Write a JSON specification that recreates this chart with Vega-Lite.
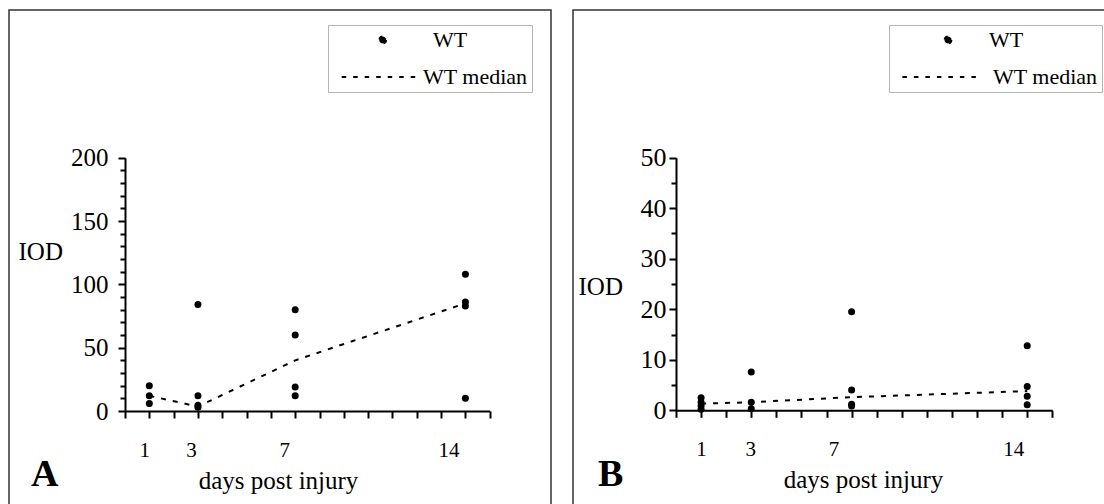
{
  "$schema": "https://vega.github.io/schema/vega-lite/v6.json",
  "background": "white",
  "padding": {"left": 8, "top": 9, "right": 0, "bottom": 0},
  "bounds": "flush",
  "spacing": 22,
  "config": {
    "view": {"stroke": "#333333", "strokeWidth": 1.5},
    "font": "Liberation Serif",
    "axis": {"labelColor": "black", "titleColor": "black", "tickColor": "black", "domainColor": "black", "domainWidth": 2, "titleFontWeight": "normal", "labelFlush": false, "labelOverlap": false, "labelBound": false, "grid": false},
    "legend": {"labelColor": "black", "labelFont": "Liberation Serif"}
  },
  "resolve": {"scale": {"x": "independent", "y": "independent", "color": "independent"}, "legend": {"color": "independent"}},
  "datasets": {
    "A": [
      {"day": 1, "iod": 20, "series": "WT"},
      {"day": 1, "iod": 12, "series": "WT"},
      {"day": 1, "iod": 6, "series": "WT"},
      {"day": 3, "iod": 84, "series": "WT"},
      {"day": 3, "iod": 12, "series": "WT"},
      {"day": 3, "iod": 4.5, "series": "WT"},
      {"day": 3, "iod": 3, "series": "WT"},
      {"day": 7, "iod": 80, "series": "WT"},
      {"day": 7, "iod": 60, "series": "WT"},
      {"day": 7, "iod": 19, "series": "WT"},
      {"day": 7, "iod": 12, "series": "WT"},
      {"day": 14, "iod": 108, "series": "WT"},
      {"day": 14, "iod": 86, "series": "WT"},
      {"day": 14, "iod": 83, "series": "WT"},
      {"day": 14, "iod": 10, "series": "WT"},
      {"day": 1, "iod": 12, "series": "WT median"},
      {"day": 3, "iod": 3.5, "series": "WT median"},
      {"day": 7, "iod": 40, "series": "WT median"},
      {"day": 14, "iod": 85, "series": "WT median"}
    ],
    "B": [
      {"day": 1, "iod": 2.5, "series": "WT"},
      {"day": 1, "iod": 1.6, "series": "WT"},
      {"day": 1, "iod": 0.9, "series": "WT"},
      {"day": 1, "iod": 0.2, "series": "WT"},
      {"day": 3, "iod": 7.6, "series": "WT"},
      {"day": 3, "iod": 1.6, "series": "WT"},
      {"day": 3, "iod": 0.3, "series": "WT"},
      {"day": 7, "iod": 19.5, "series": "WT"},
      {"day": 7, "iod": 4.0, "series": "WT"},
      {"day": 7, "iod": 1.2, "series": "WT"},
      {"day": 7, "iod": 0.85, "series": "WT"},
      {"day": 14, "iod": 12.8, "series": "WT"},
      {"day": 14, "iod": 4.7, "series": "WT"},
      {"day": 14, "iod": 2.8, "series": "WT"},
      {"day": 14, "iod": 1.1, "series": "WT"},
      {"day": 1, "iod": 1.3, "series": "WT median"},
      {"day": 3, "iod": 1.6, "series": "WT median"},
      {"day": 7, "iod": 2.6, "series": "WT median"},
      {"day": 14, "iod": 3.8, "series": "WT median"}
    ]
  },
  "hconcat": [
    {
      "width": 542,
      "height": 500,
      "data": {"name": "A"},
      "title": {"text": "A", "orient": "bottom", "anchor": "start", "frame": "group", "fontSize": 38, "fontWeight": "bold", "baseline": "alphabetic", "offset": -24, "dx": 22, "color": "black", "font": "Liberation Serif"},
      "encoding": {
        "x": {"field": "day", "type": "quantitative",
          "scale": {"domain": [0, 15], "range": [116, 480.7], "nice": false, "zero": false},
          "axis": {"orient": "bottom", "offset": -99, "values": [0,1,2,3,4,5,6,7,8,9,10,11,12,13,14,15], "tickSize": 7, "tickWidth": 2,
            "labelOverlap": false, "labelFlush": false, "labelBound": false,
            "labelExpr": "indexof([1,3,7,14], datum.value) >= 0 ? datum.label : ''",
            "labelOffset": {"condition": [{"test": "datum.value == 1", "value": -5}, {"test": "datum.value == 3", "value": -7}, {"test": "datum.value == 7", "value": -11}], "value": -17},
            "labelFontSize": 21, "labelPadding": 32, "labelBaseline": "middle",
            "title": "days post injury", "titleFontSize": 25, "titleX": 269, "titleY": 77, "titleBaseline": "alphabetic", "titleAlign": "center", "titleAnchor": null}},
        "y": {"field": "iod", "type": "quantitative",
          "scale": {"domain": [0, 200], "range": [401, 147.7], "nice": false, "zero": false},
          "axis": {"orient": "left", "offset": -116, "values": [0,10,20,30,40,50,60,70,80,90,100,110,120,130,140,150,160,170,180,190,200], "tickWidth": 2,
            "tickSize": {"condition": {"test": "datum.value % 50 == 0", "value": 7}, "value": 5},
            "labelOverlap": false, "labelFlush": false, "labelBound": false,
            "labelExpr": "datum.value % 50 == 0 ? datum.label : ''", "labelFontSize": 25, "labelPadding": 10,
            "title": "IOD", "titleFontSize": 25, "titleAngle": 0, "titleAlign": "left", "titleBaseline": "middle", "titleX": -107, "titleY": 241}},
        "color": {"field": "series", "type": "nominal",
          "scale": {"domain": ["WT", "WT median"], "range": ["black", "black"]},
          "legend": {"orient": "none", "legendX": 319, "legendY": 15, "title": null, "strokeColor": "#b5b5b5", "fillColor": "white", "padding": 4, "labelFontSize": 22, "labelOffset": 69, "rowPadding": 15, "symbolSize": 49, "symbolStrokeWidth": 2,
            "encoding": {
              "symbols": {
                "shape": {"value": {"expr": "datum.label == 'WT' ? 'M12.34,0L12.206,0.5L11.84,0.866L11.34,1L10.84,0.866L10.474,0.5L10.34,0L10.474,-0.5L10.84,-0.866L11.34,-1L11.84,-0.866L12.206,-0.5Z' : 'M-0.37,0H21.34'"}},
                "fill": {"value": {"expr": "datum.label == 'WT' ? 'black' : 'transparent'"}},
                "stroke": {"value": {"expr": "datum.label == 'WT' ? 'transparent' : 'black'"}},
                "strokeDash": {"value": [4.5, 7]},
                "strokeWidth": {"value": 2},
                "opacity": {"value": 1}},
              "labels": {"dx": {"value": {"expr": "datum.label == 'WT' ? 10 : 0"}}}}}}
      },
      "layer": [
        {
          "transform": [{"filter": "datum.series == 'WT'"}],
          "mark": {"type": "point", "filled": true, "size": 49, "opacity": 1}
        },
        {
          "transform": [{"filter": "datum.series == 'WT median'"}],
          "mark": {"type": "line", "strokeDash": [5, 7], "strokeWidth": 2}
        }
      ]
    },
    {
      "width": 542,
      "height": 500,
      "data": {"name": "B"},
      "title": {"text": "B", "orient": "bottom", "anchor": "start", "frame": "group", "fontSize": 38, "fontWeight": "bold", "baseline": "alphabetic", "offset": -24, "dx": 25, "color": "black", "font": "Liberation Serif"},
      "encoding": {
        "x": {"field": "day", "type": "quantitative",
          "scale": {"domain": [0, 15], "range": [103, 479.3], "nice": false, "zero": false},
          "axis": {"orient": "bottom", "offset": -99.7, "values": [0,1,2,3,4,5,6,7,8,9,10,11,12,13,14,15], "tickSize": 7, "tickWidth": 2,
            "labelOverlap": false, "labelFlush": false, "labelBound": false,
            "labelExpr": "indexof([1,3,7,14], datum.value) >= 0 ? datum.label : ''",
            "labelOffset": {"condition": [{"test": "datum.value == 1", "value": 0}, {"test": "datum.value == 3", "value": -1}, {"test": "datum.value == 7", "value": -18}], "value": -14},
            "labelFontSize": 21, "labelPadding": 32, "labelBaseline": "middle",
            "title": "days post injury", "titleFontSize": 25, "titleX": 290, "titleY": 77, "titleBaseline": "alphabetic", "titleAlign": "center", "titleAnchor": null}},
        "y": {"field": "iod", "type": "quantitative",
          "scale": {"domain": [0, 50], "range": [400.3, 147.7], "nice": false, "zero": false},
          "axis": {"orient": "left", "offset": -103, "values": [0,5,10,15,20,25,30,35,40,45,50], "tickWidth": 2,
            "tickSize": {"condition": {"test": "datum.value % 10 == 0", "value": 7}, "value": 5},
            "labelOverlap": false, "labelFlush": false, "labelBound": false,
            "labelExpr": "datum.value % 10 == 0 ? datum.label : ''", "labelFontSize": 26, "labelPadding": 3,
            "title": "IOD", "titleFontSize": 25, "titleAngle": 0, "titleAlign": "left", "titleBaseline": "middle", "titleX": -98, "titleY": 276}},
        "color": {"field": "series", "type": "nominal",
          "scale": {"domain": ["WT", "WT median"], "range": ["black", "black"]},
          "legend": {"orient": "none", "legendX": 316, "legendY": 15, "title": null, "strokeColor": "#b5b5b5", "fillColor": "white", "padding": 4, "labelFontSize": 22, "labelOffset": 78, "rowPadding": 15, "symbolSize": 49, "symbolStrokeWidth": 2,
            "encoding": {
              "symbols": {
                "shape": {"value": {"expr": "datum.label == 'WT' ? 'M13.57,0L13.436,0.5L13.07,0.866L12.57,1L12.07,0.866L11.704,0.5L11.57,0L11.704,-0.5L12.07,-0.866L12.57,-1L13.07,-0.866L13.436,-0.5Z' : 'M-0.46,0H20.97'"}},
                "fill": {"value": {"expr": "datum.label == 'WT' ? 'black' : 'transparent'"}},
                "stroke": {"value": {"expr": "datum.label == 'WT' ? 'transparent' : 'black'"}},
                "strokeDash": {"value": [4.5, 7]},
                "strokeWidth": {"value": 2},
                "opacity": {"value": 1}},
              "labels": {"dx": {"value": {"expr": "datum.label == 'WT' ? -4 : 0"}}}}}}
      },
      "layer": [
        {
          "transform": [{"filter": "datum.series == 'WT'"}],
          "mark": {"type": "point", "filled": true, "size": 49, "opacity": 1}
        },
        {
          "transform": [{"filter": "datum.series == 'WT median'"}],
          "mark": {"type": "line", "strokeDash": [5, 7], "strokeWidth": 2}
        }
      ]
    }
  ]
}
